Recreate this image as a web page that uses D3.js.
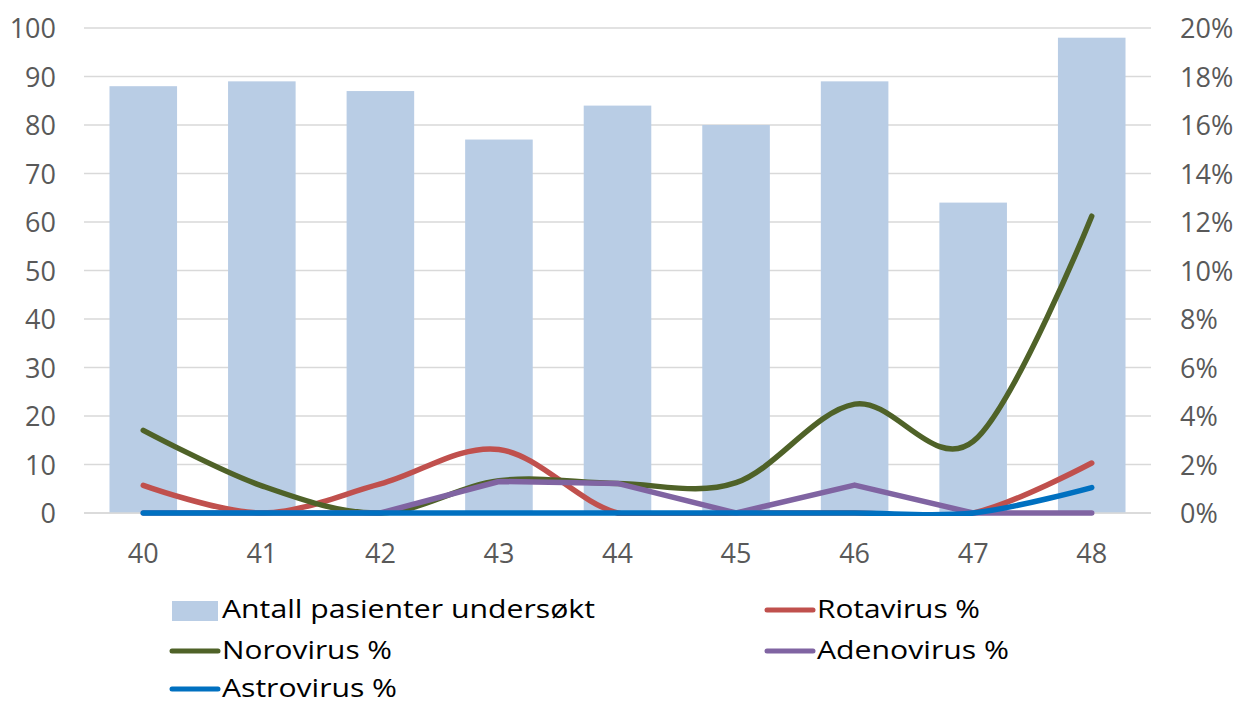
<!DOCTYPE html>
<html><head><meta charset="utf-8">
<script src="https://cdn.jsdelivr.net/npm/d3@7"></script>
<style>body{margin:0;background:#fff}svg{display:block}text{font-family:"Open Sans",sans-serif}</style>
</head><body><svg id="c" width="1236" height="705"></svg>
<script>
const weeks = ["40","41","42","43","44","45","46","47","48"];
const patients = [88, 89, 87, 77, 84, 80, 89, 64, 98];
const rotavirus = [1.14, 0, 1.2, 2.62, 0, 0, 0, 0, 2.06];
const norovirus = [3.41, 1.12, 0, 1.33, 1.22, 1.25, 4.49, 2.95, 12.24];
const adenovirus = [0, 0, 0, 1.3, 1.22, 0, 1.15, 0, 0];
const astrovirus = [0, 0, 0, 0, 0, 0, 0, 0, 1.05];
const leftTicks = [0,10,20,30,40,50,60,70,80,90,100];
const rightTicks = [0,2,4,6,8,10,12,14,16,18,20];
const legendLabels = ["Antall pasienter undersøkt","Rotavirus %","Norovirus %","Adenovirus %","Astrovirus %"];

const svg = d3.select("#c");
const L = 84, R = 1151, T = 28, B = 513;
const x = d3.scaleBand().domain(weeks).range([L, R]).paddingInner(0.43).paddingOuter(0.215);
const yL = d3.scaleLinear().domain([0,100]).range([B,T]);
const yR = d3.scaleLinear().domain([0,20]).range([B,T]);
const cx = d => x(d) + x.bandwidth()/2;

// grid
svg.append("g").selectAll("line").data(leftTicks).join("line")
  .attr("x1",L).attr("x2",R).attr("y1",d=>yL(d)).attr("y2",d=>yL(d))
  .attr("stroke","#D9D9D9").attr("stroke-width",1.5);

// left axis labels
const axL = svg.append("g").attr("transform",`translate(56,0)`)
  .call(d3.axisLeft(yL).tickValues(leftTicks).tickSize(0).tickPadding(0));
axL.select(".domain").remove();
axL.selectAll("text").attr("font-size",27).attr("fill","#595959").attr("font-family","Open Sans").attr("dy","0.36em");

// right axis labels
const axR = svg.append("g").attr("transform",`translate(1180,0)`)
  .call(d3.axisRight(yR).tickValues(rightTicks).tickSize(0).tickPadding(0).tickFormat(d=>d+"%"));
axR.select(".domain").remove();
axR.selectAll("text").attr("font-size",27).attr("fill","#595959").attr("font-family","Open Sans").attr("dy","0.36em");

// x labels
const axX = svg.append("g").attr("transform",`translate(0,${B})`)
  .call(d3.axisBottom(x).tickSize(0).tickPadding(0));
axX.select(".domain").remove();
axX.selectAll("text").attr("font-size",27).attr("fill","#595959").attr("font-family","Open Sans").attr("dy",0).attr("y",50);

// bars
svg.append("g").selectAll("rect").data(patients).join("rect")
  .attr("x",(d,i)=>x(weeks[i])).attr("width",x.bandwidth())
  .attr("y",d=>yL(d)).attr("height",d=>B-yL(d)).attr("fill","#B9CDE5");

// baseline
svg.append("line").attr("x1",L).attr("x2",R).attr("y1",B).attr("y2",B).attr("stroke","#D9D9D9").attr("stroke-width",1.5);

svg.append("clipPath").attr("id","clip").append("rect").attr("x",L).attr("y",T-10).attr("width",R-L).attr("height",B-T+13);

const series = [
  {v: rotavirus, c:"#C0504D", smooth:true},
  {v: norovirus, c:"#4F6228", smooth:true},
  {v: adenovirus, c:"#8064A2", smooth:false},
  {v: astrovirus, c:"#0070C0", smooth:true},
];
const lg = svg.append("g").attr("clip-path","url(#clip)");
series.forEach(s=>{
  const line = d3.line().x((d,i)=>cx(weeks[i])).y(d=>yR(d))
    .curve(s.smooth ? d3.curveCatmullRom.alpha(0) : d3.curveLinear);
  lg.append("path").attr("d",line(s.v)).attr("fill","none").attr("stroke",s.c)
    .attr("stroke-width",5.5).attr("stroke-linecap","round").attr("stroke-linejoin","round");
});

// legend
const leg = svg.append("g");
const items = [
  {t:legendLabels[0], c:"#B9CDE5", type:"rect", x:172, y:618, w:373},
  {t:legendLabels[1], c:"#C0504D", type:"line", x:767, y:618, w:163},
  {t:legendLabels[2], c:"#4F6228", type:"line", x:172, y:659, w:170},
  {t:legendLabels[3], c:"#8064A2", type:"line", x:767, y:659, w:192},
  {t:legendLabels[4], c:"#0070C0", type:"line", x:172, y:697, w:175},
];
items.forEach(it=>{
  if(it.type==="rect"){
    leg.append("rect").attr("x",it.x).attr("y",it.y-17).attr("width",46).attr("height",20).attr("fill",it.c);
  } else {
    leg.append("line").attr("x1",it.x).attr("x2",it.x+46).attr("y1",it.y-8).attr("y2",it.y-8)
      .attr("stroke",it.c).attr("stroke-width",5).attr("stroke-linecap","round");
  }
  leg.append("text").attr("x",it.x+50).attr("y",it.y).attr("font-size",26).attr("fill","#000")
    .attr("textLength",it.w).attr("lengthAdjust","spacingAndGlyphs").text(it.t);
});
</script></body></html>
